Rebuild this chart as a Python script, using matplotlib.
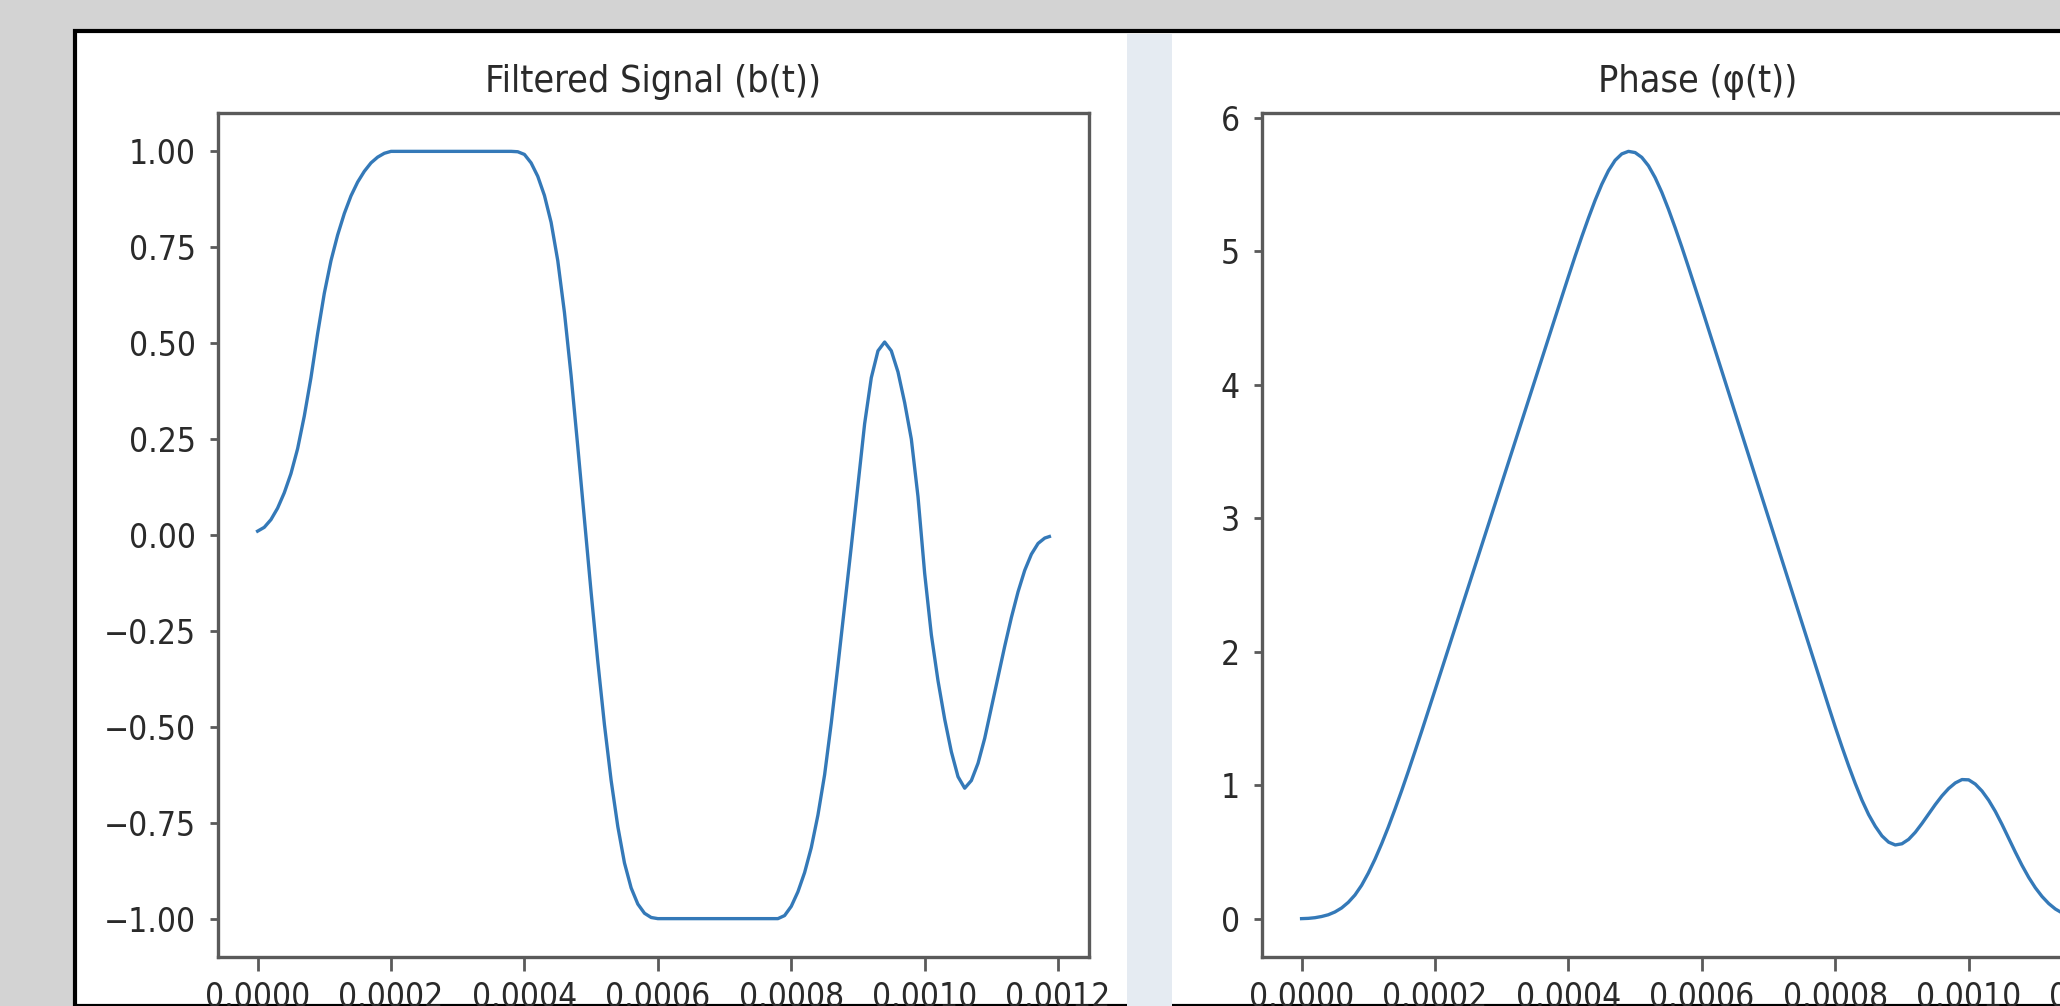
import matplotlib
matplotlib.use("Agg")
import matplotlib.pyplot as plt
import matplotlib.ticker as mticker
from matplotlib.patches import Rectangle

# ---- data (time in units of 1e-4 s) ----
t_e4 = [0.0, 0.1, 0.2, 0.3, 0.4, 0.5, 0.6, 0.7, 0.8, 0.9,
        1.0, 1.1, 1.2, 1.3, 1.4, 1.5, 1.6, 1.7, 1.8, 1.9,
        2.0, 2.1, 2.2, 2.3, 2.4, 2.5, 2.6, 2.7, 2.8, 2.9,
        3.0, 3.1, 3.2, 3.3, 3.4, 3.5, 3.6, 3.7, 3.8, 3.9,
        4.0, 4.1, 4.2, 4.3, 4.4, 4.5, 4.6, 4.7, 4.8, 4.9,
        5.0, 5.1, 5.2, 5.3, 5.4, 5.5, 5.6, 5.7, 5.8, 5.9,
        6.0, 6.1, 6.2, 6.3, 6.4, 6.5, 6.6, 6.7, 6.8, 6.9,
        7.0, 7.1, 7.2, 7.3, 7.4, 7.5, 7.6, 7.7, 7.8, 7.9,
        8.0, 8.1, 8.2, 8.3, 8.4, 8.5, 8.6, 8.7, 8.8, 8.9,
        9.0, 9.1, 9.2, 9.3, 9.4, 9.5, 9.6, 9.7, 9.8, 9.9,
        10.0, 10.1, 10.2, 10.3, 10.4, 10.5, 10.6, 10.7, 10.8, 10.9,
        11.0, 11.1, 11.2, 11.3, 11.4, 11.5, 11.6, 11.7, 11.8, 11.87]

b_vals = [0.010, 0.020, 0.040, 0.070, 0.110, 0.160, 0.225, 0.310, 0.410, 0.525,
          0.630, 0.715, 0.782, 0.838, 0.884, 0.920, 0.948, 0.970, 0.985, 0.995,
          1.000, 1.000, 1.000, 1.000, 1.000, 1.000, 1.000, 1.000, 1.000, 1.000,
          1.000, 1.000, 1.000, 1.000, 1.000, 1.000, 1.000, 1.000, 1.000, 0.999,
          0.992, 0.970, 0.935, 0.885, 0.815, 0.715, 0.580, 0.415, 0.230, 0.040,
          -0.150, -0.330, -0.495, -0.640, -0.760, -0.855, -0.920, -0.962, -0.986, -0.997,
          -1.000, -1.000, -1.000, -1.000, -1.000, -1.000, -1.000, -1.000, -1.000, -1.000,
          -1.000, -1.000, -1.000, -1.000, -1.000, -1.000, -1.000, -1.000, -1.000, -0.992,
          -0.968, -0.930, -0.880, -0.815, -0.730, -0.625, -0.490, -0.340, -0.185, -0.030,
          0.130, 0.290, 0.410, 0.480, 0.503, 0.480, 0.425, 0.345, 0.250, 0.100,
          -0.100, -0.260, -0.380, -0.480, -0.565, -0.630, -0.660, -0.640, -0.595, -0.530,
          -0.450, -0.370, -0.290, -0.215, -0.148, -0.092, -0.050, -0.022, -0.008, -0.004]

phi_vals = [0.000, 0.002, 0.007, 0.016, 0.029, 0.050, 0.080, 0.122, 0.177, 0.250,
            0.341, 0.445, 0.561, 0.686, 0.820, 0.959, 1.104, 1.253, 1.404, 1.558,
            1.712, 1.867, 2.022, 2.177, 2.332, 2.487, 2.642, 2.797, 2.952, 3.107,
            3.262, 3.417, 3.572, 3.727, 3.882, 4.037, 4.192, 4.347, 4.502, 4.657,
            4.811, 4.963, 5.109, 5.249, 5.382, 5.502, 5.604, 5.682, 5.730, 5.749,
            5.740, 5.704, 5.641, 5.552, 5.442, 5.315, 5.177, 5.032, 4.881, 4.727,
            4.573, 4.416, 4.259, 4.102, 3.945, 3.788, 3.631, 3.474, 3.317, 3.160,
            3.003, 2.846, 2.689, 2.532, 2.375, 2.218, 2.061, 1.904, 1.747, 1.590,
            1.436, 1.288, 1.146, 1.012, 0.888, 0.780, 0.692, 0.620, 0.573, 0.552,
            0.561, 0.594, 0.647, 0.713, 0.784, 0.855, 0.920, 0.975, 1.017, 1.042,
            1.040, 1.008, 0.956, 0.887, 0.803, 0.706, 0.602, 0.498, 0.399, 0.309,
            0.231, 0.166, 0.113, 0.072, 0.043, 0.025, 0.015, 0.010, 0.008, 0.007]

titles = ["Filtered Signal (b(t))", "Phase (\u03c6(t))"]
x_ticks = [0.0, 0.0002, 0.0004, 0.0006, 0.0008, 0.0010, 0.0012]
b_ticks = [-1.0, -0.75, -0.5, -0.25, 0.0, 0.25, 0.5, 0.75, 1.0]
phi_ticks = [0, 1, 2, 3, 4, 5, 6]

t = [v * 1e-4 for v in t_e4]

plt.rcParams["font.family"] = ["DejaVu Sans"]
plt.rcParams["font.stretch"] = "condensed"

W, H = 2060, 1006
fig = plt.figure(figsize=(W / 100, H / 100), dpi=100, facecolor="#d3d3d3")

# screenshot frame: black border, white panel, light strip between the panels
fig.patches.append(Rectangle((75 / W, 0), 1.0, 1 - 31 / H, transform=fig.transFigure,
                             facecolor="white", edgecolor="black", linewidth=3, zorder=-10))
fig.patches.append(Rectangle((1127 / W, 0), 45 / W, 1 - 34 / H, transform=fig.transFigure,
                             facecolor="#e5ebf2", edgecolor="none", zorder=-9))

line_color = "#3479b8"
spine_color = "#5a5a5a"
text_color = "#2a2a2a"


def fmt(pattern):
    return mticker.FuncFormatter(lambda v, p: (pattern % v).replace("-", "\u2212"))


def make_ax(left_px, yvals, title, yticks, yfmt):
    ax = fig.add_axes([left_px / W, 1 - 957 / H, 871 / W, (957 - 113) / H])
    ax.set_zorder(5)
    ax.plot(t, yvals, color=line_color, linewidth=2.4)
    ax.set_title(title, fontsize=27, pad=15, color=text_color)
    for s in ax.spines.values():
        s.set_color(spine_color)
        s.set_linewidth(2.4)
    ax.tick_params(axis="both", labelsize=24, labelcolor=text_color, width=2, color=spine_color)
    ax.tick_params(axis="x", length=10, pad=7)
    ax.tick_params(axis="y", length=6, pad=10)
    ax.set_xticks(x_ticks)
    ax.xaxis.set_major_formatter(fmt("%.4f"))
    ax.set_yticks(yticks)
    ax.yaxis.set_major_formatter(fmt(yfmt))
    return ax


ax1 = make_ax(218, b_vals, titles[0], b_ticks, "%.2f")
ax2 = make_ax(1262, phi_vals, titles[1], phi_ticks, "%d")

fig.savefig("out.png", dpi=100, facecolor=fig.get_facecolor())
